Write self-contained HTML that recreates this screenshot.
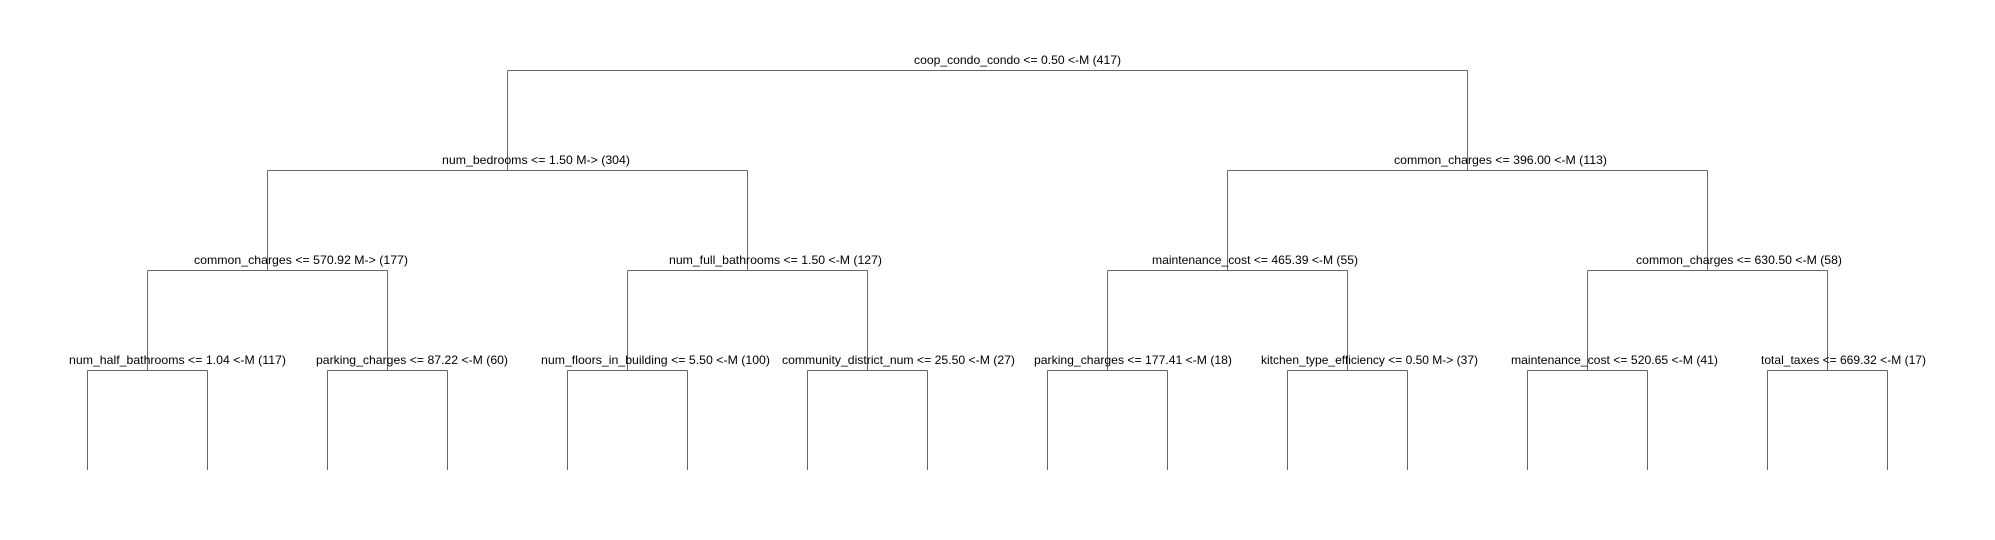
<!DOCTYPE html>
<html><head><meta charset="utf-8"><style>
html,body{margin:0;padding:0;background:#fff;}
svg{display:block;}
text{font-family:"Liberation Sans",sans-serif;font-size:12px;fill:#000;}
</style></head><body>
<svg width="1995" height="540" xmlns="http://www.w3.org/2000/svg">
<g stroke="#666" stroke-width="1" fill="none">
<!-- root -->
<path d="M507.5 70.5H1467.5"/>
<!-- level 2 -->
<path d="M507.5 70.5V170.5M267.5 170.5H747.5"/>
<path d="M1467.5 70.5V170.5M1227.5 170.5H1707.5"/>
<!-- level 3 -->
<path d="M267.5 170.5V270.5M147.5 270.5H387.5"/>
<path d="M747.5 170.5V270.5M627.5 270.5H867.5"/>
<path d="M1227.5 170.5V270.5M1107.5 270.5H1347.5"/>
<path d="M1707.5 170.5V270.5M1587.5 270.5H1827.5"/>
<!-- level 4 -->
<path d="M147.5 270.5V370.5M87.5 370.5H207.5"/>
<path d="M387.5 270.5V370.5M327.5 370.5H447.5"/>
<path d="M627.5 270.5V370.5M567.5 370.5H687.5"/>
<path d="M867.5 270.5V370.5M807.5 370.5H927.5"/>
<path d="M1107.5 270.5V370.5M1047.5 370.5H1167.5"/>
<path d="M1347.5 270.5V370.5M1287.5 370.5H1407.5"/>
<path d="M1587.5 270.5V370.5M1527.5 370.5H1647.5"/>
<path d="M1827.5 270.5V370.5M1767.5 370.5H1887.5"/>
<!-- leaves -->
<path d="M87.5 370.5V470M207.5 370.5V470M327.5 370.5V470M447.5 370.5V470M567.5 370.5V470M687.5 370.5V470M807.5 370.5V470M927.5 370.5V470M1047.5 370.5V470M1167.5 370.5V470M1287.5 370.5V470M1407.5 370.5V470M1527.5 370.5V470M1647.5 370.5V470M1767.5 370.5V470M1887.5 370.5V470"/>
</g>
<g lengthAdjust="spacingAndGlyphs">
<text x="914" y="64" textLength="207" lengthAdjust="spacingAndGlyphs">coop_condo_condo &lt;= 0.50 &lt;-M (417)</text>
<text x="442" y="164" textLength="188" lengthAdjust="spacingAndGlyphs">num_bedrooms &lt;= 1.50 M-&gt; (304)</text>
<text x="1394" y="164" textLength="213" lengthAdjust="spacingAndGlyphs">common_charges &lt;= 396.00 &lt;-M (113)</text>
<text x="194" y="264" textLength="214" lengthAdjust="spacingAndGlyphs">common_charges &lt;= 570.92 M-&gt; (177)</text>
<text x="669" y="264" textLength="213" lengthAdjust="spacingAndGlyphs">num_full_bathrooms &lt;= 1.50 &lt;-M (127)</text>
<text x="1152" y="264" textLength="206" lengthAdjust="spacingAndGlyphs">maintenance_cost &lt;= 465.39 &lt;-M (55)</text>
<text x="1636" y="264" textLength="206" lengthAdjust="spacingAndGlyphs">common_charges &lt;= 630.50 &lt;-M (58)</text>
<text x="69" y="364" textLength="217" lengthAdjust="spacingAndGlyphs">num_half_bathrooms &lt;= 1.04 &lt;-M (117)</text>
<text x="316" y="364" textLength="192" lengthAdjust="spacingAndGlyphs">parking_charges &lt;= 87.22 &lt;-M (60)</text>
<text x="541" y="364" textLength="229" lengthAdjust="spacingAndGlyphs">num_floors_in_building &lt;= 5.50 &lt;-M (100)</text>
<text x="782" y="364" textLength="233" lengthAdjust="spacingAndGlyphs">community_district_num &lt;= 25.50 &lt;-M (27)</text>
<text x="1034" y="364" textLength="198" lengthAdjust="spacingAndGlyphs">parking_charges &lt;= 177.41 &lt;-M (18)</text>
<text x="1261" y="364" textLength="217" lengthAdjust="spacingAndGlyphs">kitchen_type_efficiency &lt;= 0.50 M-&gt; (37)</text>
<text x="1511" y="364" textLength="207" lengthAdjust="spacingAndGlyphs">maintenance_cost &lt;= 520.65 &lt;-M (41)</text>
<text x="1761" y="364" textLength="165" lengthAdjust="spacingAndGlyphs">total_taxes &lt;= 669.32 &lt;-M (17)</text>
</g>
</svg>
</body></html>
